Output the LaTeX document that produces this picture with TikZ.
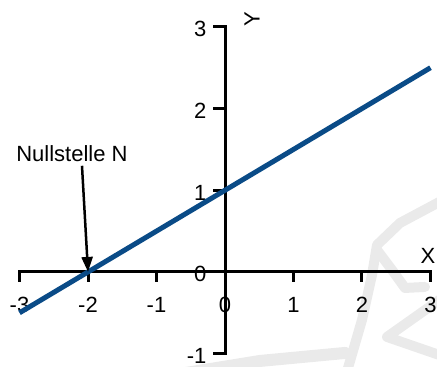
\documentclass[tikz,border=0pt]{standalone}
\usepackage{fontspec}
\setmainfont{Liberation Sans}
\usetikzlibrary{arrows.meta}
\definecolor{linblue}{RGB}{10,75,135}
\definecolor{wmgray}{RGB}{234,234,234}
\tikzset{
  axis/.style={line width=3pt,line cap=rect},
  tick/.style={line width=3pt},
  lbl/.style={font=\fontsize{22}{26}\selectfont,inner sep=0pt},
  watermark/.style={wmgray,line width=10pt,line join=round,line cap=round}
}
\begin{document}
\begin{tikzpicture}[x=68.5pt,y=81.7pt]
\useasboundingbox (-3.285,-1.163) rectangle (3.095,3.329);
% faint watermark in the background (pixel coordinates)
\begin{scope}[x=1pt,y=-1pt,xshift=-225pt,yshift=272pt]
\draw[watermark] (445,199)--(400,223)--(377,245)--(372,275)--(362,320)--(346,375);
\draw[watermark] (377,250)--(392,270)--(405,288)--(425,287);
\draw[watermark] (445,296)--(387,337)--(445,357);
\draw[watermark,line width=12pt] (180,374)--(260,361)--(345,353);
\end{scope}
% axes
\draw[axis](-3,0)--(3,0);
\draw[axis](0,-1)--(0,3);
\foreach \x in {-3,-2,-1,1,2,3}
  \draw[tick](\x,0)--(\x,-0.12);
\foreach \y in {-1,0,1,2,3}
  \draw[tick](0,\y)--(-0.175,\y);
\foreach \x in {-3,-2,-1,0,1,2,3}
  \node[lbl] (xl\x) at (\x,-0.40) {\x};
\foreach \y in {-1,0,1,2,3}
  \node[lbl,anchor=east] (yl\y) at (-0.27,\y-0.03) {\y};
\node[lbl] (xlab) at (2.964,0.196) {X};
\node[lbl,rotate=90] (ylab) at (0.394,3.097) {Y};
% the line
\draw[domain=-3:3,linblue,line width=5pt] plot (\x, {0.5*\x+1});
% zero
\coordinate (N) at (-2,0);
\node[lbl] (nst) at (-2.234,1.45) {Nullstelle N};
\draw[line width=2.5pt,-{Triangle[width=11pt,length=15pt]}] ([xshift=10pt,yshift=-4pt]nst.south) -- (N);
\end{tikzpicture}
\end{document}
